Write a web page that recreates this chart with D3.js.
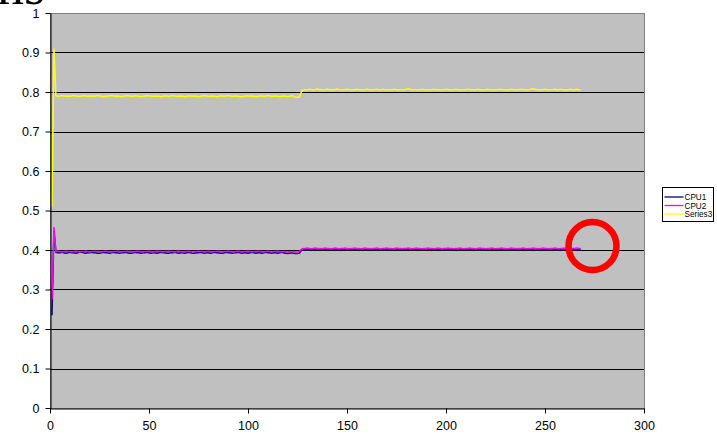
<!DOCTYPE html>
<html><head><meta charset="utf-8">
<script src="https://cdn.jsdelivr.net/npm/d3@7"></script>
<style>
html,body{margin:0;padding:0;background:#fff;overflow:hidden;}
svg{display:block;font-family:"Liberation Sans",Arial,sans-serif;}
</style></head>
<body>
<svg id="chart" width="717" height="440"></svg>
<script>
const seriesNames = ["CPU1", "CPU2", "Series3"];
const seriesColors = ["#000080", "#ff00ff", "#ffff00"];
const xTicks = [0, 50, 100, 150, 200, 250, 300];
const yTicks = [0, 0.1, 0.2, 0.3, 0.4, 0.5, 0.6, 0.7, 0.8, 0.9, 1];
const yTickLabels = ["0", "0.1", "0.2", "0.3", "0.4", "0.5", "0.6", "0.7", "0.8", "0.9", "1"];

const cpu1 = [0.235,0.448,
0.394,0.393,0.393,0.394,0.393,0.392,0.393,0.394,0.393,0.393,
0.392,0.393,0.394,0.394,0.393,0.392,0.393,0.393,0.394,0.393,
0.393,0.392,0.392,0.393,0.394,0.393,0.393,0.392,0.393,0.394,
0.393,0.393,0.392,0.393,0.393,0.394,0.393,0.392,0.392,0.393,
0.394,0.393,0.393,0.392,0.393,0.393,0.394,0.393,0.392,0.393,
0.393,0.392,0.393,0.394,0.393,0.393,0.392,0.392,0.393,0.393,
0.394,0.393,0.392,0.393,0.393,0.392,0.393,0.394,0.393,0.392,
0.392,0.393,0.393,0.394,0.393,0.392,0.393,0.393,0.392,0.393,
0.394,0.393,0.393,0.392,0.392,0.393,0.394,0.393,0.393,0.392,
0.393,0.393,0.394,0.393,0.392,0.393,0.393,0.392,0.393,0.394,
0.393,0.392,0.393,0.393,0.392,0.393,0.394,0.393,0.393,0.392,
0.393,0.393,0.392,0.393,0.394,0.393,0.392,0.391,0.392,0.393,
0.392,0.391,0.391,0.392,
0.399,0.401,0.402,0.401,0.402,0.402,0.401,0.402,0.403,0.402,
0.401,0.402,0.402,0.401,0.402,0.403,0.402,0.401,0.402,0.402,
0.401,0.402,0.402,0.403,0.402,0.401,0.401,0.402,0.402,0.401,
0.402,0.403,0.402,0.402,0.401,0.402,0.402,0.401,0.402,0.402,
0.403,0.402,0.401,0.402,0.402,0.401,0.402,0.403,0.402,0.401,
0.402,0.402,0.401,0.401,0.402,0.403,0.402,0.402,0.401,0.402,
0.402,0.401,0.402,0.403,0.402,0.401,0.402,0.402,0.401,0.402,
0.402,0.403,0.402,0.401,0.401,0.402,0.402,0.401,0.402,0.403,
0.402,0.402,0.401,0.402,0.402,0.401,0.402,0.402,0.403,0.402,
0.401,0.402,0.402,0.401,0.402,0.403,0.402,0.401,0.402,0.402,
0.401,0.402,0.402,0.403,0.402,0.401,0.402,0.402,0.401,0.402,
0.403,0.402,0.402,0.401,0.402,0.402,0.401,0.402,0.403,0.402,
0.401,0.402,0.402,0.401,0.402,0.402,0.403,0.402,0.401,0.402,
0.402,0.401,0.402,0.403,0.402,0.402,0.401,0.402,0.402,0.401,
0.402,0.402];

const cpu2 = [0.275,0.458,
0.396,0.397,0.396,0.395,0.396,0.397,0.396,0.396,0.395,0.396,
0.397,0.396,0.395,0.396,0.396,0.397,0.396,0.395,0.396,0.396,
0.397,0.396,0.396,0.395,0.396,0.397,0.396,0.396,0.395,0.396,
0.396,0.397,0.396,0.395,0.396,0.396,0.397,0.396,0.396,0.395,
0.396,0.397,0.396,0.396,0.395,0.396,0.396,0.397,0.396,0.395,
0.396,0.397,0.396,0.396,0.395,0.396,0.396,0.397,0.396,0.396,
0.395,0.396,0.397,0.396,0.395,0.396,0.396,0.397,0.396,0.395,
0.396,0.396,0.397,0.396,0.396,0.395,0.396,0.397,0.396,0.395,
0.396,0.396,0.397,0.396,0.395,0.396,0.396,0.397,0.396,0.396,
0.395,0.396,0.397,0.396,0.395,0.396,0.396,0.397,0.396,0.395,
0.396,0.396,0.397,0.396,0.396,0.395,0.396,0.397,0.396,0.395,
0.396,0.396,0.397,0.396,0.395,0.396,0.396,0.395,0.396,0.395,
0.396,0.395,0.395,0.396,
0.402,0.404,0.404,0.405,0.404,0.403,0.404,0.405,0.404,0.404,
0.403,0.404,0.405,0.404,0.404,0.403,0.404,0.405,0.404,0.403,
0.404,0.404,0.405,0.404,0.403,0.404,0.404,0.405,0.404,0.404,
0.403,0.404,0.405,0.404,0.404,0.403,0.404,0.404,0.405,0.404,
0.403,0.404,0.404,0.405,0.404,0.404,0.403,0.404,0.405,0.404,
0.404,0.403,0.404,0.404,0.405,0.404,0.403,0.404,0.405,0.404,
0.404,0.403,0.404,0.404,0.405,0.404,0.404,0.403,0.404,0.405,
0.404,0.403,0.404,0.404,0.405,0.404,0.404,0.403,0.404,0.404,
0.405,0.404,0.403,0.404,0.404,0.405,0.404,0.404,0.403,0.404,
0.405,0.404,0.404,0.403,0.404,0.404,0.405,0.404,0.403,0.404,
0.404,0.405,0.404,0.404,0.403,0.404,0.405,0.404,0.404,0.403,
0.404,0.404,0.405,0.404,0.403,0.404,0.404,0.405,0.404,0.404,
0.403,0.404,0.405,0.404,0.404,0.403,0.404,0.404,0.405,0.404,
0.403,0.404,0.404,0.405,0.404,0.404,0.403,0.404,0.404,0.405,
0.404,0.404];

const series3 = [0.51,0.91,
0.790,0.789,0.790,0.791,0.790,0.789,0.790,0.789,0.790,0.791,
0.790,0.789,0.789,0.790,0.791,0.790,0.789,0.790,0.790,0.789,
0.790,0.791,0.790,0.789,0.788,0.789,0.790,0.790,0.791,0.790,
0.789,0.790,0.789,0.788,0.789,0.790,0.791,0.790,0.789,0.789,
0.790,0.790,0.789,0.788,0.789,0.790,0.791,0.790,0.790,0.789,
0.789,0.790,0.789,0.788,0.789,0.790,0.790,0.789,0.790,0.791,
0.790,0.789,0.789,0.790,0.789,0.788,0.789,0.790,0.790,0.789,
0.790,0.789,0.788,0.789,0.790,0.791,0.790,0.789,0.789,0.790,
0.789,0.788,0.789,0.790,0.790,0.789,0.790,0.791,0.790,0.789,
0.789,0.790,0.789,0.788,0.788,0.789,0.790,0.790,0.789,0.790,
0.789,0.788,0.789,0.790,0.790,0.789,0.790,0.791,0.790,0.789,
0.789,0.790,0.789,0.788,0.789,0.790,0.789,0.788,0.789,0.791,
0.789,0.787,0.787,0.788,
0.801,0.805,0.806,0.806,0.807,0.806,0.805,0.806,0.808,0.806,
0.806,0.805,0.806,0.807,0.806,0.805,0.806,0.806,0.808,0.806,
0.805,0.806,0.806,0.807,0.806,0.805,0.806,0.806,0.807,0.806,
0.806,0.805,0.806,0.807,0.806,0.806,0.805,0.806,0.807,0.806,
0.806,0.807,0.806,0.806,0.805,0.806,0.806,0.807,0.806,0.806,
0.805,0.806,0.806,0.807,0.808,0.807,0.806,0.806,0.805,0.806,
0.806,0.807,0.806,0.806,0.805,0.806,0.806,0.807,0.806,0.806,
0.805,0.806,0.806,0.807,0.806,0.806,0.805,0.806,0.807,0.806,
0.806,0.805,0.806,0.806,0.807,0.806,0.805,0.806,0.806,0.807,
0.806,0.806,0.805,0.806,0.807,0.806,0.806,0.805,0.806,0.806,
0.807,0.806,0.806,0.805,0.806,0.806,0.807,0.806,0.806,0.805,
0.806,0.807,0.806,0.806,0.805,0.806,0.807,0.808,0.807,0.806,
0.806,0.805,0.806,0.807,0.806,0.806,0.805,0.806,0.807,0.806,
0.806,0.807,0.806,0.806,0.805,0.806,0.807,0.806,0.806,0.807,
0.806,0.806];

// annotation marker (red circle) position in data units
const markerX = [274];
const markerY = [0.41];

const svg = d3.select("#chart");
const plotLeft = 50, plotRight = 644, plotTop = 13, plotBottom = 408;

const x = d3.scaleLinear().domain([0, 300]).range([plotLeft, plotRight]);
const y = d3.scaleLinear().domain([0, 1]).range([plotBottom, plotTop]);

// clipped title fragment at the top
svg.append("text").attr("x", -3).attr("y", 4)
  .attr("font-family", "'Liberation Serif','Times New Roman',serif")
  .attr("font-size", 54).attr("fill", "#000").text("ns");

// plot area
svg.append("rect").attr("x", plotLeft).attr("y", plotTop)
  .attr("width", plotRight - plotLeft).attr("height", plotBottom - plotTop)
  .attr("fill", "#c0c0c0").attr("stroke", "#808080").attr("stroke-width", 1)
  .attr("shape-rendering", "crispEdges");

// gridlines
svg.append("g").selectAll("line").data(yTicks.filter(v => v > 0 && v < 1)).join("line")
  .attr("x1", plotLeft).attr("x2", plotRight)
  .attr("y1", d => Math.round(y(d)) + 0.5).attr("y2", d => Math.round(y(d)) + 0.5)
  .attr("stroke", "#000").attr("stroke-width", 1);

// lines
const xs = cpu1.map((_, i) => i + 1);
const all = [cpu1, cpu2, series3];
const line = d3.line().x((d, i) => x(xs[i])).y(d => y(d));
[0, 1, 2].forEach(k => {
  svg.append("path").datum(all[k])
    .attr("d", line)
    .attr("fill", "none")
    .attr("stroke", seriesColors[k])
    .attr("stroke-width", 1.5)
    .attr("stroke-linejoin", "miter");
});

// axes
const yAxis = d3.axisLeft(y).tickValues(yTicks)
  .tickFormat((d, i) => yTickLabels[i]).tickSize(5).tickSizeOuter(0).tickPadding(6);
const gy = svg.append("g").attr("transform", `translate(${plotLeft + 0.5},0)`).call(yAxis);
gy.select(".domain").attr("stroke", "#000");
gy.selectAll("text").attr("font-size", 12.5).attr("font-family", "'Liberation Sans',Arial,sans-serif").attr("fill", "#000");

const xAxis = d3.axisBottom(x).tickValues(xTicks).tickSize(5).tickSizeOuter(0).tickPadding(8);
const gx = svg.append("g").attr("transform", `translate(0,${plotBottom + 0.5})`).call(xAxis);
gx.select(".domain").attr("stroke", "#000");
gx.selectAll("text").attr("font-size", 12.5).attr("font-family", "'Liberation Sans',Arial,sans-serif").attr("fill", "#000");

// red circle annotation
svg.append("circle").attr("cx", x(markerX[0])).attr("cy", y(markerY[0])).attr("r", 24)
  .attr("fill", "none").attr("stroke", "#ff0000").attr("stroke-width", 6.5);

// legend
const lg = svg.append("g").attr("transform", "translate(662.5,187.5)");
lg.append("rect").attr("width", 51).attr("height", 34)
  .attr("fill", "#fff").attr("stroke", "#000").attr("stroke-width", 1);
seriesNames.forEach((n, i) => {
  const yy = 9.5 + i * 8.5;
  lg.append("line").attr("x1", 2).attr("x2", 21).attr("y1", yy).attr("y2", yy)
    .attr("stroke", seriesColors[i]).attr("stroke-width", 1.3);
  lg.append("text").attr("x", 22).attr("y", yy + 3)
    .attr("font-size", 8.2).attr("fill", "#000").text(n);
});
</script>
</body></html>
